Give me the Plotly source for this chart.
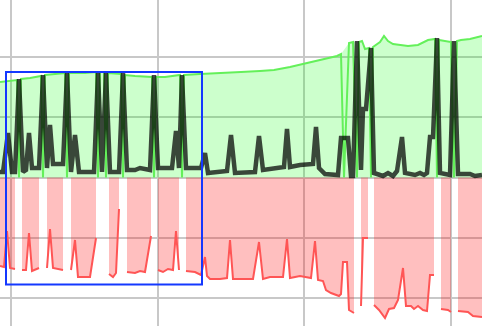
import plotly.graph_objects as go

# ---- data (time units, value units) ----
dark_t = [-11, -8, -3, 1, 4, 8, 12, 15, 18, 21, 28, 32, 36, 39, 42, 52, 56, 60, 64, 68, 83, 87, 91, 95, 99,
          108, 112, 116, 124, 129, 139, 143, 147, 161, 165, 168, 171, 175, 190, 194, 197, 216, 220, 224,
          244, 248, 252, 264, 273, 276, 279, 289, 302, 305, 308, 314, 327, 330, 337, 340, 342, 346, 350,
          352, 355, 360, 363, 372, 377, 382, 386, 391, 394, 404, 409, 413, 416, 419, 422, 426, 429, 439,
          443, 447, 459, 464, 471]
dark_v = [5.5, 5.5, 44.5, 5.5, 5.5, 98.5, 5.5, 7.5, 44.5, 9.5, 9.5, 102.5, 9.5, 52.5, 13.5, 13.5, 104.5, 5.5,
          42.5, 5.5, 5.5, 104.5, 5.5, 104.5, 5.5, 5.5, 104.5, 7.5, 7.5, 9.5, 7.5, 102.5, 9.5, 9.5, 46.5, 9.5,
          102.5, 9.5, 9.5, 24.5, 4.5, 6.5, 42.5, 4.5, 5.5, 41.5, 7.5, 9.5, 10.5, 48.5, 10.5, 12.5, 13.5, 50.5,
          9.5, 3.5, 2.5, 39.5, 39.5, 1.5, 1.5, 136.5, 7.5, 68.5, 68.5, 129.5, 4.5, 1.5, 4.5, 1.5, 6.5, 40.5,
          4.5, 2.5, 4.5, 2.5, 4.5, 40.5, 40.5, 139.5, 4.5, 2.5, 136.5, 3.5, 3.5, 1.5, 2.5]

green_t = [-11, -1, 6, 8, 10, 19, 30, 32, 34, 44, 54, 56, 58, 74, 85, 87, 89, 93, 95, 97, 110, 112, 114,
           124, 134, 141, 143, 145, 154, 169, 171, 173, 189, 204, 230, 249, 263, 279, 297, 314, 326, 330,
           333, 338, 342, 346, 348, 351, 354, 358, 360, 362, 369, 373, 377, 382, 389, 397, 407, 417, 424,
           426, 428, 440, 443, 446, 450, 459, 471]
green_v = [95.5, 96.5, 97.5, None, 98.5, 99.5, 101.5, None, 102.5, 103.5, 104.5, None, 104.5, 104.5, 105.5,
           None, 105.5, 105.5, None, 104.5, 103.5, None, 102.5, 101.5, 100.5, 100.5, None, 100.5, 100.5,
           102.5, None, 102.5, 103.5, 104.5, 105.5, 106.5, 107.5, 110.5, 114.5, 118.5, 121.5, 123.5, None,
           134.5, 135.5, None, 135.5, 136.5, 128.5, 129.5, None, 130.5, 135.5, 141.5, 136.5, 133.5, 132.5,
           131.5, 132.5, 137.5, 138.5, None, 137.5, 135.5, None, 136.5, 137.5, 138.5, 141.5]

red_t = [-11, -7, -4, -1, 4, 8, 11, 15, 18, 21, 28, 32, 36, 39, 42, 52, 56, 60, 64, 67, 79, 85, 87, 95, 98,
         102, 105, 108, 112, 116, 124, 129, 134, 140, 143, 147, 152, 157, 162, 165, 168, 171, 175, 184, 190,
         194, 196, 199, 209, 216, 219, 222, 242, 248, 252, 259, 272, 276, 279, 289, 300, 304, 307, 312, 315,
         320, 328, 330, 332, 336, 338, 343, 346, 350, 352, 357, 360, 363, 368, 374, 378, 383, 387, 392, 395,
         400, 403, 407, 412, 416, 419, 423, 426, 430, 437, 440, 443, 447, 457, 462, 471]
red_v = [-88.5, -89.5, -53.5, -90.5, -91.5, None, -92.5, -92.5, -55.5, -93.5, -90.5, None, -90.5, -51.5,
         -90.5, -92.5, None, -92.5, -62.5, -99.5, -99.5, -60.5, None, None, -96.5, -99.5, -95.5, -31.5, None,
         -94.5, -95.5, -93.5, -94.5, -58.5, None, -92.5, -94.5, -91.5, -92.5, -53.5, -92.5, None, -93.5,
         -94.5, -97.5, -79.5, -98.5, -101.5, -101.5, -100.5, -62.5, -101.5, -101.5, -64.5, -101.5, -99.5,
         -99.5, -61.5, -100.5, -98.5, -100.5, -63.5, -102.5, -103.5, -112.5, -115.5, -118.5, -116.5, -84.5,
         -84.5, -132.5, -135.5, None, -128.5, -60.5, -60.5, None, -127.5, -132.5, -140.5, -131.5, -130.5,
         -122.5, -90.5, -128.5, -128.5, -131.5, -128.5, -132.5, -133.5, -97.5, -97.5, None, -131.5, -132.5,
         -134.5, None, -133.5, -134.5, -138.5, -139.5]

# value drawn for a missing green sample
green_line_v = [0 if v is None else v for v in green_v]


def segments(ts, vs):
    """Split a series into runs of non-missing samples."""
    out, cur_t, cur_v = [], [], []
    for t, v in zip(ts, vs):
        if v is None:
            if cur_t:
                out.append((cur_t, cur_v))
            cur_t, cur_v = [], []
        else:
            cur_t.append(t)
            cur_v.append(v)
    if cur_t:
        out.append((cur_t, cur_v))
    return out


fig = go.Figure()
fig.add_trace(go.Scatter(x=green_t, y=green_v, mode="lines", fill="tozeroy", connectgaps=True,
                         line=dict(width=0, color="rgba(0,0,0,0)"),
                         fillcolor="rgba(0,255,0,0.2)", hoverinfo="skip", showlegend=False))
for st, sv in segments(red_t, red_v):
    fig.add_trace(go.Scatter(x=st, y=sv, mode="lines", fill="tozeroy",
                             line=dict(width=2, color="rgb(255,85,85)"),
                             fillcolor="rgba(255,0,0,0.25)", showlegend=False))
fig.add_trace(go.Scatter(x=green_t, y=green_line_v, mode="lines",
                         line=dict(width=2, color="rgb(100,240,90)"), showlegend=False))
fig.add_trace(go.Scatter(x=dark_t, y=dark_v, mode="lines",
                         line=dict(width=4.5, color="rgba(0,0,0,0.72)"), showlegend=False))

fig.add_shape(type="rect", x0=-5, x1=191, y0=-107, y1=105.5, xref="x", yref="y",
              line=dict(color="rgb(20,56,255)", width=2), fillcolor="rgba(0,0,0,0)")

fig.update_layout(
    width=482, height=326, margin=dict(l=0, r=0, t=0, b=0),
    paper_bgcolor="white", plot_bgcolor="white", showlegend=False,
    xaxis=dict(range=[-11, 471], tick0=0, dtick=146.7, showticklabels=False, ticks="",
               showgrid=True, gridcolor="rgb(200,200,200)", gridwidth=2, zeroline=False, showline=False),
    yaxis=dict(range=[-148.5, 177.5], tick0=0, dtick=60.4, showticklabels=False, ticks="",
               showgrid=True, gridcolor="rgb(200,200,200)", gridwidth=2, zeroline=False, showline=False),
)
fig.write_html("out.html", config={"displayModeBar": False})
